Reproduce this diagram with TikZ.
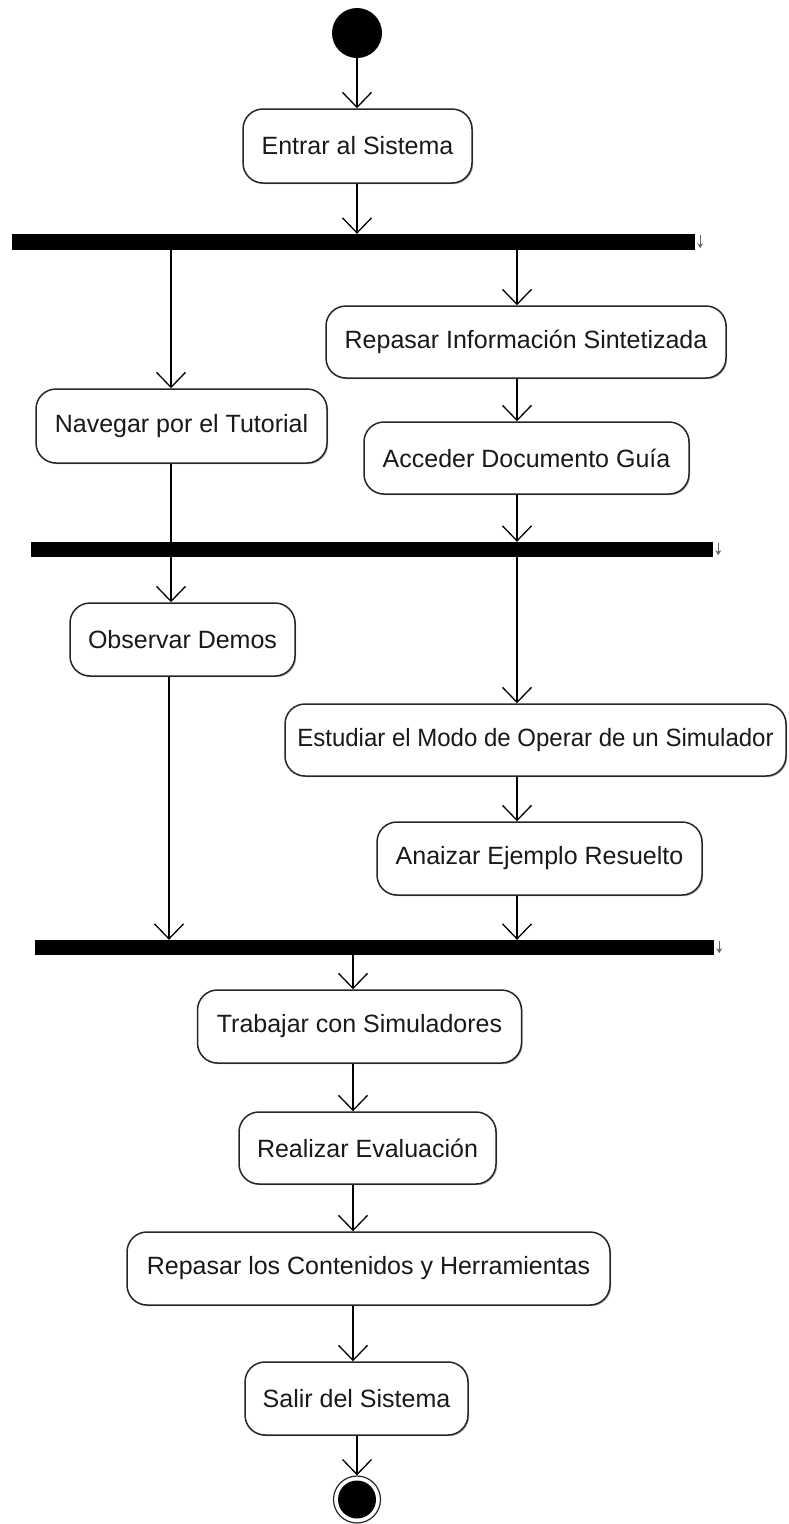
\documentclass[tikz,border=0pt]{standalone}
\usepackage{fontspec}
\setmainfont{Liberation Sans}
\usetikzlibrary{arrows.meta,shadows}
\begin{document}
\begin{tikzpicture}[x=1pt,y=-1pt,
  act/.style={draw=black!85, line width=1.5pt, rounded corners=20pt, fill=white,
    inner sep=0pt, font=\fontsize{25}{30}\selectfont, text=black!90,
    drop shadow={shadow xshift=1.2pt, shadow yshift=-1.2pt, fill=black!50, opacity=0.6}},
  forkbar/.style={fill=black, draw=none, inner sep=0pt},
  flow/.style={line width=1.3pt, line join=round,
    -{Straight Barb[length=15pt,width=29pt]}},
  plain/.style={line width=1.3pt},
  barmark/.style={draw=black!60, line width=1.4pt, -{Stealth[length=5pt,width=6pt]}}
]
\useasboundingbox (0,0) rectangle (789,1524);

% column positions of the vertical flows
\coordinate (cTop) at (357,0);
\coordinate (cL)   at (171,0);
\coordinate (cL2)  at (169,0);
\coordinate (cR)   at (517,0);
\coordinate (cBot) at (353,0);

% initial and final states
\node[circle, fill=black, minimum size=50pt, inner sep=0pt] (start) at (357,33) {};
\node[circle, draw=black!85, fill=white, line width=1.2pt, minimum size=47pt, inner sep=0pt] (final) at (357,1499.5) {};
\node[circle, fill=black, minimum size=38pt, inner sep=0pt] (finalDot) at (final) {};

% activities
\node[act, minimum width=229pt, minimum height=74pt] (entrar)   at (357.5,146)   {Entrar al Sistema};
\node[act, minimum width=400pt, minimum height=72pt] (repasar)  at (526,342)     {Repasar Información Sintetizada};
\node[act, minimum width=291pt, minimum height=74pt] (nav)      at (181.5,426)   {Navegar por el Tutorial};
\node[act, minimum width=325pt, minimum height=72pt] (acceder)  at (526.5,458)   {Acceder Documento Guía};
\node[act, minimum width=225pt, minimum height=73pt] (observar) at (182.5,639.5) {Observar Demos};
\node[act, minimum width=501pt, minimum height=72pt] (estudiar) at (535.5,740)   {\scalebox{0.96}[1]{Estudiar el Modo de Operar de un Simulador}};
\node[act, minimum width=325pt, minimum height=73pt] (analizar) at (539.5,858.5) {Anaizar Ejemplo Resuelto};
\node[act, minimum width=324pt, minimum height=73pt] (trabajar) at (359.5,1026.5){Trabajar con Simuladores};
\node[act, minimum width=257pt, minimum height=72pt] (realizar) at (367.5,1148)  {Realizar Evaluación};
\node[act, minimum width=483pt, minimum height=73pt] (repcont)  at (368.5,1268.5){Repasar los Contenidos y Herramientas};
\node[act, minimum width=223pt, minimum height=73pt] (salir)    at (356.5,1398.5){Salir del Sistema};

% fork / join bars
\node[forkbar, minimum width=683pt, minimum height=16pt] (bar1) at (353.5,242)   {};
\node[forkbar, minimum width=682pt, minimum height=15pt] (bar2) at (372,549.5)   {};
\node[forkbar, minimum width=679pt, minimum height=15pt] (bar3) at (374.5,947.5) {};
\foreach \b in {bar1,bar2,bar3}
  \draw[barmark] ([xshift=5pt,yshift=-1pt]\b.north east) -- ([xshift=5pt,yshift=2pt]\b.south east);

% control flow
\draw[flow]  (start.south) -- (start.south |- entrar.north);
\draw[flow]  (entrar.south -| cTop) -- (bar1.north -| cTop);
\draw[flow]  (bar1.south -| cR) -- (repasar.north -| cR);
\draw[flow]  (bar1.south -| cL) -- (nav.north -| cL);
\draw[flow]  (repasar.south -| cR) -- (acceder.north -| cR);
\draw[plain] (nav.south -| cL) -- (bar2.north -| cL);
\draw[flow]  (acceder.south -| cR) -- (bar2.north -| cR);
\draw[flow]  (bar2.south -| cL) -- (observar.north -| cL);
\draw[flow]  (bar2.south -| cR) -- (estudiar.north -| cR);
\draw[flow]  (observar.south -| cL2) -- (bar3.north -| cL2);
\draw[flow]  (estudiar.south -| cR) -- (analizar.north -| cR);
\draw[flow]  (analizar.south -| cR) -- (bar3.north -| cR);
\draw[flow]  (bar3.south -| cBot) -- (trabajar.north -| cBot);
\draw[flow]  (trabajar.south -| cBot) -- (realizar.north -| cBot);
\draw[flow]  (realizar.south -| cBot) -- (repcont.north -| cBot);
\draw[flow]  (repcont.south -| cBot) -- (salir.north -| cBot);
\draw[flow]  (salir.south -| final.north) -- (final.north);
\end{tikzpicture}
\end{document}
